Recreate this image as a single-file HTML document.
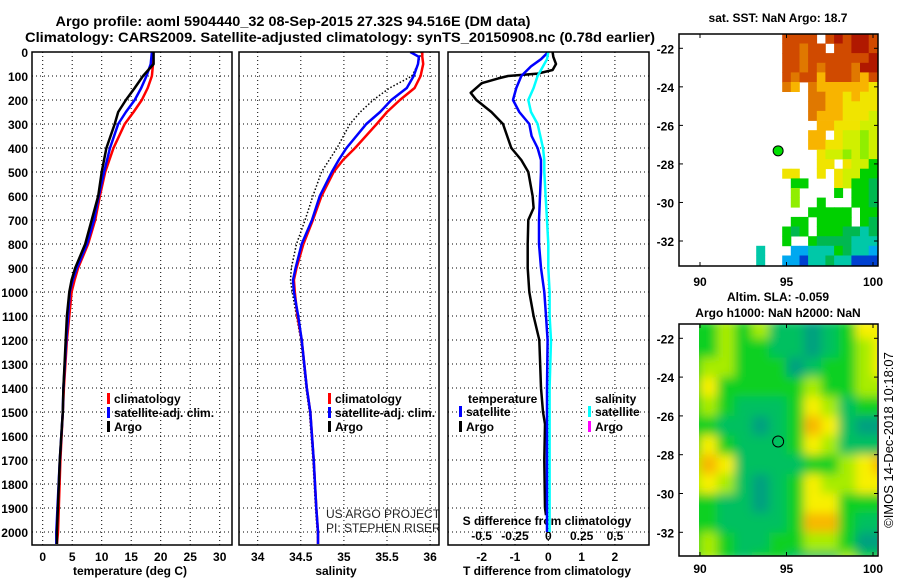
<!DOCTYPE html>
<html><head><meta charset="utf-8"><title>Argo profile</title>
<style>
html,body{margin:0;padding:0;background:#fff;width:900px;height:580px;overflow:hidden;}
svg{display:block;font-family:"Liberation Sans",Arial,sans-serif;}
.b{font-weight:bold;font-size:12px;}
</style></head>
<body>
<svg id="chart" width="900" height="580" viewBox="0 0 900 580" xmlns="http://www.w3.org/2000/svg">
<defs>
<clipPath id="cp1"><rect x="32" y="52" width="200" height="493"/></clipPath>
<clipPath id="cp2"><rect x="239" y="52" width="200" height="493"/></clipPath>
<clipPath id="cp3"><rect x="448" y="52" width="201" height="493"/></clipPath>
<clipPath id="cm1"><rect x="679" y="34" width="199" height="232"/></clipPath>
<clipPath id="cm2"><rect x="699" y="324" width="178" height="232"/></clipPath>
<filter id="blur" x="0" y="0" width="1" height="1"><feGaussianBlur stdDeviation="5" edgeMode="duplicate"/></filter>
</defs>
<text x="293" y="26" text-anchor="middle" font-size="14" font-weight="bold" textLength="475" lengthAdjust="spacingAndGlyphs">Argo profile: aoml 5904440_32 08-Sep-2015 27.32S 94.516E (DM data)</text>
<text x="340" y="42" text-anchor="middle" font-size="14" font-weight="bold" textLength="630" lengthAdjust="spacingAndGlyphs">Climatology: CARS2009. Satellite-adjusted climatology: synTS_20150908.nc (0.78d earlier)</text>
<g id="root"></g>
</svg>
<script>
// ---------- data ----------
const tDepth = [0,50,100,150,200,250,300,400,500,600,700,800,900,950,1000,1100,1200,1400,1500,1700,2000,2050];
const tClim  = [18.7,18.7,18.5,17.8,16.8,15.4,13.9,12.0,10.6,9.7,8.9,7.7,6.0,5.4,4.9,4.5,4.1,3.6,3.4,3.0,2.6,2.4];
const tSat   = [18.5,18.3,17.6,16.7,15.6,14.1,12.8,11.4,10.4,9.5,8.7,7.5,5.8,5.1,4.6,4.3,4.0,3.5,3.4,2.9,2.3,2.3];
const tArgo  = [18.8,18.8,17.0,15.6,14.1,12.8,12.2,10.8,10.0,9.4,8.3,7.2,5.5,4.9,4.5,4.1,3.9,3.5,3.4,2.9,2.4,2.4];

const sDepth = [0,20,50,100,150,200,250,300,400,450,500,600,700,800,900,950,1000,1100,1200,1400,1500,1700,1900,2000,2050];
const sClim  = [35.91,35.91,35.92,35.89,35.82,35.65,35.50,35.38,35.13,34.99,34.88,34.74,34.64,34.53,34.45,34.42,34.43,34.46,34.51,34.57,34.61,34.65,34.68,34.70,34.70];
const sSat   = [35.77,35.87,35.86,35.81,35.73,35.55,35.42,35.26,35.03,34.94,34.86,34.72,34.63,34.51,34.44,34.41,34.42,34.47,34.51,34.57,34.61,34.65,34.68,34.70,34.70];
const sArgo  = [35.90,35.88,35.86,35.79,35.53,35.34,35.19,35.07,34.92,34.83,34.74,34.64,34.55,34.45,34.39,34.38,34.40,34.45,34.50,34.56,34.60,34.64,34.67,34.69,34.70];

const dDepthA = [0,20,50,75,90,100,110,130,170,200,250,300,400,450,500,600,650,700,800,900,1000,1100,1200,1400,1500,1550,1700,1900,1930];
const dTArgo  = [0.13,0.15,0.23,0.13,-0.32,-1.21,-1.5,-2.0,-2.33,-2.16,-1.71,-1.36,-1.11,-0.81,-0.6,-0.47,-0.44,-0.6,-0.62,-0.62,-0.57,-0.44,-0.27,-0.22,-0.16,-0.1,-0.12,-0.1,-0.07];
const dDepthS = [0,30,60,100,150,200,250,300,350,400,450,500,600,700,800,900,1000,1100,1200,1400,1700,2000];
const dTSat   = [0,-0.22,-0.52,-0.81,-0.96,-1.06,-0.87,-0.57,-0.5,-0.32,-0.22,-0.22,-0.25,-0.28,-0.28,-0.22,-0.12,-0.07,-0.02,-0.04,-0.04,-0.04];
const dSSat   = [0,-0.01,-0.04,-0.08,-0.11,-0.15,-0.13,-0.08,-0.06,-0.04,-0.03,-0.03,-0.02,-0.01,0,0,0.01,0.01,0.02,0.01,0.01,0.01];

const depthTicks = [0,100,200,300,400,500,600,700,800,900,1000,1100,1200,1300,1400,1500,1600,1700,1800,1900,2000];
const tempTicks = [0,5,10,15,20,25,30];
const salTicks = [34,34.5,35,35.5,36];
const salTickLabels = ["34","34.5","35","35.5","36"];
const dTTicks = [-2,-1,0,1,2];
const dSTicks = [-0.5,-0.25,0,0.25,0.5];
const dSTickLabels = ["-0.5","-0.25","0","0.25","0.5"];

const latTicks = [-22,-24,-26,-28,-30,-32];
const lonTicks = [90,95,100];
const argoLon = 94.516, argoLat = -27.32;

// SST map: rows lat -21.5 .. -33 step -0.5; cols lon 93.5 .. 100 step 0.5
const sstLon0 = 93.5;
const sstLat0 = -21.5;
const sstRows = [
"...bbbb.babaab",
"...bbcbb.bbaab",
"...bbcbbbbbbba",
"...bbcbcbbbcaa",
"...bcbbdbbbcdb",
"...cd.cdddddde",
"......ccddedee",
"......ccddeeee",
"......cdddeeef",
".......ddeeeff",
"......dd.effgf",
"......ddeeffgf",
".......effgfgf",
".......ee.effh",
"...ee..e.effhh",
"....hh...efhhi",
"....g....h.hhi",
"....g..h...hhi",
"......hhhhh.hh",
"....hh.hhhh.hi",
"...hih.hhhiiji",
"...h..hiiiijjj",
"j...kkjjjhijjk",
"j..kkljjijjlll"];
const sstColors = {a:"#b01800",b:"#d04a00",c:"#e07800",d:"#f8b400",e:"#f0e400",f:"#d0f000",g:"#90ee00",h:"#00d000",i:"#00b850",j:"#00c8a8",k:"#00a8f0",l:"#0040d0"};

// SLA map: rows lat -21.5 .. -33.5 step -1, cols lon 89.5 .. 100.5 step 1
const slaLon0 = 89.5;
const slaLat0 = -21.5;
const slaRows = [
"223231101244",
"223221101234",
"233222012234",
"242222232233",
"232111243122",
"221101254100",
"242111243111",
"354111122345",
"343101243344",
"221101244222",
"221111255211",
"232112233200",
"232122111322",
"222121001222"];
const slaColors = ["#00a080","#00c060","#10d020","#a8ec00","#f8f000","#f8b800"];

// ---------- helpers ----------
const NS = "http://www.w3.org/2000/svg";
const root = document.getElementById("root");
function el(tag, attrs, parent){
  const e = document.createElementNS(NS, tag);
  for (const k in attrs) e.setAttribute(k, attrs[k]);
  (parent||root).appendChild(e);
  return e;
}
function txt(x,y,s,attrs,parent){
  const e = el("text", Object.assign({x:x,y:y},attrs||{}), parent);
  e.textContent = s;
  return e;
}
const yD = d => 52 + d*0.24;
const xT = t => 42.7 + t*5.9;
const xS = s => 257.7 + (s-34)*86.2;
const xDT = v => 548.3 + v*33.3;
const xDS = v => 548.3 + v*133.3;
const mLonX = lon => 700 + (lon-90)*17.3;
const m1LatY = lat => 48.3 + (-lat-22)*19.27;
const m2LatY = lat => 338.3 + (-lat-22)*19.4;

function frame(){
  const g = el("g",{});
  
  return g;
}
function hgrid(g,x0,x1){
  depthTicks.forEach(d=>{
    const l = el("line",{x1:x0,x2:x1,y1:yD(d),y2:yD(d),stroke:"#000","stroke-width":1,"stroke-dasharray":"1 3"},g);
    
    
  });
}
function vgrid(g,xs){
  xs.forEach(x=>{
    const l = el("line",{x1:x,x2:x,y1:52,y2:545,stroke:"#000","stroke-width":1,"stroke-dasharray":"1 3"},g);
    
    
  });
}
function box(g,x,y,w,h){
  const r = el("rect",{x:x,y:y,width:w,height:h,fill:"none",stroke:"#000","stroke-width":1.5},g);
  
  
}
function line(g,xs,ds,xf,color,w,dash,clip,name){
  const pts = ds.map((d,i)=>xf(xs[i]).toFixed(1)+","+yD(d).toFixed(1)).join(" ");
  const a = {points:pts,fill:"none",stroke:color,"stroke-width":w,"stroke-linejoin":"round","clip-path":"url(#"+clip+")"};
  if (dash) a["stroke-dasharray"]=dash;
  const p = el("polyline",a,g);
  
  
}
function legend(g,x,y,color,label){
  const r = el("rect",{x:x,y:y-10,width:3,height:11,fill:color},g);
  
  
  const t = txt(x+7,y,label,{class:"b"},g);
  
  
}

// ---------- panel 1: temperature ----------
const p1 = frame(); 
hgrid(p1,32,232);
vgrid(p1,tempTicks.map(xT));
depthTicks.forEach(d=>{
  const t = txt(28,yD(d)+5,String(d),{class:"b","text-anchor":"end"},p1);
  
  
});
tempTicks.forEach(v=>{
  const t = txt(xT(v),561,String(v),{class:"b","text-anchor":"middle"},p1);
  
  
});
const tt = txt(130,575,"temperature (deg C)",{class:"b","text-anchor":"middle"},p1);

line(p1,tClim,tDepth,xT,"#ff0000",2.5,null,"cp1","temp-climatology-line");
line(p1,tSat,tDepth,xT,"#0000ff",2.5,null,"cp1","temp-satellite-line");
line(p1,tArgo,tDepth,xT,"#000000",2.5,null,"cp1","temp-argo-line");
box(p1,32,52,200,493);
legend(p1,107,403,"#ff0000","climatology");
legend(p1,107,417,"#0000ff","satellite-adj. clim.");
legend(p1,107,431,"#000000","Argo");

// ---------- panel 2: salinity ----------
const p2 = frame(); 
hgrid(p2,239,439);
vgrid(p2,salTicks.map(xS));
salTicks.forEach((v,i)=>{
  const t = txt(xS(v),561,salTickLabels[i],{class:"b","text-anchor":"middle"},p2);
  
  
});
const st = txt(336,575,"salinity",{class:"b","text-anchor":"middle"},p2);

line(p2,sArgo,sDepth,xS,"#000000",1.5,"1.5 2","cp2","sal-argo-line");
line(p2,sClim,sDepth,xS,"#ff0000",2.5,null,"cp2","sal-climatology-line");
line(p2,sSat,sDepth,xS,"#0000ff",2.5,null,"cp2","sal-satellite-line");
const cr = el("g",{"clip-path":"url(#cp2)"},p2);

txt(326,518,"US ARGO PROJECT",{"font-size":"12","fill":"#222"},cr);
txt(326,532,"PI: STEPHEN RISER",{"font-size":"12","fill":"#222"},cr);
box(p2,239,52,200,493);
legend(p2,328,403,"#ff0000","climatology");
legend(p2,328,417,"#0000ff","satellite-adj. clim.");
legend(p2,328,431,"#000000","Argo");

// ---------- panel 3: differences ----------
const p3 = frame(); 
hgrid(p3,448,649);
vgrid(p3,dTTicks.map(xDT));
dTTicks.forEach(v=>{
  const t = txt(xDT(v),561,String(v),{class:"b","text-anchor":"middle"},p3);
  
  
});
dSTicks.forEach((v,i)=>{
  const t = txt(xDS(v),540,dSTickLabels[i],{class:"b","text-anchor":"middle"},p3);
  
  
});
const sdt = txt(547,525,"S difference from climatology",{class:"b","text-anchor":"middle"},p3);

const tdt = txt(547,575,"T difference from climatology",{class:"b","text-anchor":"middle"},p3);

line(p3,dTArgo,dDepthA,xDT,"#000000",2.5,null,"cp3","t-diff-argo-line");
line(p3,dTSat,dDepthS,xDT,"#0000ff",2.5,null,"cp3","t-diff-satellite-line");
line(p3,dSSat,dDepthS,xDS,"#00ffff",2.5,null,"cp3","s-diff-satellite-line");
box(p3,448,52,201,493);
const lt = txt(468,403,"temperature",{class:"b"},p3);

const ls = txt(595,403,"salinity",{class:"b"},p3);

legend(p3,459,416,"#0000ff","satellite");
legend(p3,459,431,"#000000","Argo");
legend(p3,588,416,"#00ffff","satellite");
legend(p3,588,431,"#ff00ff","Argo");

// ---------- map helpers ----------
function mapAxes(g,top,h,latY,lonLabelY){
  latTicks.forEach(v=>{
    const y = latY(v);
    const t = txt(674,y+5,String(v),{class:"b","text-anchor":"end"},g);
    
    
    el("line",{x1:679,x2:683,y1:y,y2:y,stroke:"#000"},g);
    el("line",{x1:874,x2:878,y1:y,y2:y,stroke:"#000"},g);
  });
  lonTicks.forEach(v=>{
    const x = mLonX(v);
    const t = txt(x,lonLabelY,String(v),{class:"b","text-anchor":"middle"},g);
    
    
    el("line",{x1:x,x2:x,y1:top,y2:top+4,stroke:"#000"},g);
    el("line",{x1:x,x2:x,y1:top+h-4,y2:top+h,stroke:"#000"},g);
  });
  const r = el("rect",{x:679,y:top,width:199,height:h,fill:"none",stroke:"#000","stroke-width":1.5},g);
  
  
}

// ---------- SST map ----------
const m1 = frame(); 
const m1t = txt(778,22,"sat. SST: NaN Argo: 18.7",{class:"b","text-anchor":"middle"},m1);

const c1 = el("g",{"clip-path":"url(#cm1)"},m1);

sstRows.forEach((row,ri)=>{
  const lat = sstLat0 - ri*0.5;
  [...row].forEach((ch,ci)=>{
    if (ch === ".") return;
    const lon = sstLon0 + ci*0.5;
    const x0 = mLonX(lon-0.25), x1 = mLonX(lon+0.25);
    const y0 = m1LatY(lat+0.25), y1 = m1LatY(lat-0.25);
    const r = el("rect",{x:x0.toFixed(1),y:y0.toFixed(1),width:(x1-x0+0.4).toFixed(1),height:(y1-y0+0.4).toFixed(1),fill:sstColors[ch]},c1);
    
    
  });
});
const a1 = el("circle",{cx:mLonX(argoLon),cy:m1LatY(argoLat),r:5,fill:"#00e000",stroke:"#000","stroke-width":1},m1);


mapAxes(m1,34,232,m1LatY,286);

// ---------- SLA map ----------
const m2 = frame(); 
const m2t = txt(778,301,"Altim. SLA: -0.059",{class:"b","text-anchor":"middle"},m2);

const m2t2 = txt(778,317,"Argo h1000: NaN h2000: NaN",{class:"b","text-anchor":"middle"},m2);

const c2 = el("g",{"clip-path":"url(#cm2)"},m2);

const c2b = el("g",{filter:"url(#blur)"},c2);
slaRows.forEach((row,ri)=>{
  const lat = slaLat0 - ri;
  [...row].forEach((ch,ci)=>{
    const lon = slaLon0 + ci;
    const x0 = mLonX(lon-0.5), x1 = mLonX(lon+0.5);
    const y0 = Math.max(320, m2LatY(lat+0.5)), y1 = Math.min(560, m2LatY(lat-0.5));
    const r = el("rect",{x:x0.toFixed(1),y:y0.toFixed(1),width:(x1-x0+0.5).toFixed(1),height:(y1-y0+0.5).toFixed(1),fill:slaColors[+ch]},c2b);
    
    
  });
});
const a2 = el("circle",{cx:mLonX(argoLon),cy:m2LatY(argoLat),r:5.5,fill:"none",stroke:"#000","stroke-width":1},m2);


mapAxes(m2,324,232,m2LatY,573);

const cp = txt(0,0,"\u00A9IMOS 14-Dec-2018 10:18:07",{"font-size":"13","text-anchor":"middle",transform:"translate(893,440) rotate(-90)"});


</script>
</body></html>
